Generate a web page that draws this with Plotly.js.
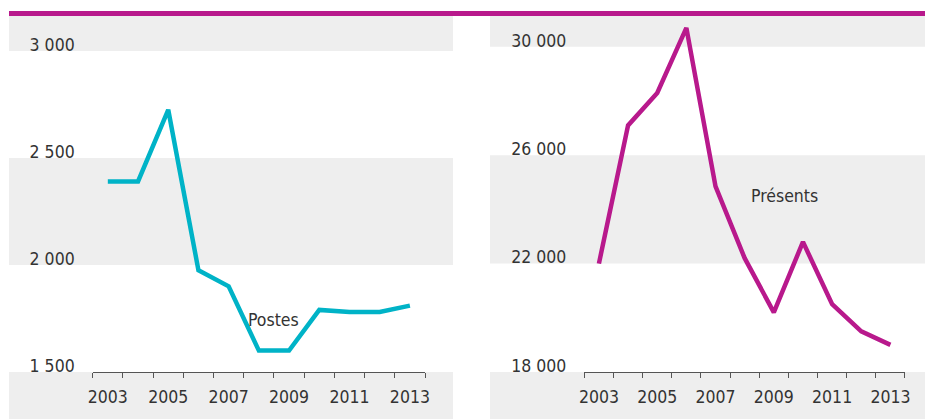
<!DOCTYPE html>
<html>
<head>
<meta charset="utf-8">
<script src="https://cdn.plot.ly/plotly-3.0.1.min.js"></script>
<style>html,body{margin:0;padding:0;background:#fff;}#chart{width:925px;height:419px;}</style>
</head>
<body>
<div id="chart"></div>
<script>
// Data
var years = [2003, 2004, 2005, 2006, 2007, 2008, 2009, 2010, 2011, 2012, 2013];
var postes = [2390, 2390, 2725, 1975, 1900, 1600, 1600, 1790, 1780, 1780, 1810];
var presents = [22000, 27100, 28300, 30700, 24850, 22200, 20200, 22800, 20500, 19500, 19000];
var xTickVals = [2003, 2005, 2007, 2009, 2011, 2013];
var leftTicks = [1500, 2000, 2500, 3000];
var rightTicks = [18000, 22000, 26000, 30000];
var labelPostes = "Postes";
var labelPresents = "Présents";

var cyan = "#00B3C7";
var magenta = "#B8198C";
var band = "#EEEEEE";
var txt = "#333333";
var FONT = "'DejaVu Sans Condensed', 'Liberation Sans Narrow', 'Roboto', sans-serif";
var FS = 17.5;

var yDom = [0.1122, 0.9618];
var xDomL = [0.1002, 0.4595];
var xDomR = [0.6317, 0.9784];

function xAxis(dom, anchor) {
  return {
    domain: dom, anchor: anchor, range: [2002.499, 2013.501],
    tickvals: xTickVals, ticks: "", showgrid: false, zeroline: false,
    showline: true, linecolor: "#555", linewidth: 1,
    tickfont: {family: FONT, size: FS, color: txt},
    ticklabelstandoff: 9,
    minor: {ticks: "outside", ticklen: 5, tickwidth: 1, tickcolor: "#555", tick0: 2002.5, dtick: 1, showgrid: false},
    fixedrange: true
  };
}
function yAxis(dom, anchor, range, vals) {
  return {
    domain: dom, anchor: anchor, range: range, tickvals: vals, tickformat: ",d",
    ticks: "", showgrid: false, zeroline: false, showline: false,
    ticklabelposition: "outside top", ticklabelstandoff: 17, ticklabelshift: 6,
    tickfont: {family: FONT, size: FS, color: txt},
    fixedrange: true
  };
}

var rangeL = [1500, 3163];
var rangeR = [18000, 31137];

var traces = [
  {x: years, y: postes, type: "scatter", mode: "lines", xaxis: "x", yaxis: "y",
   line: {color: cyan, width: 4.5}, hoverinfo: "skip"},
  {x: years, y: presents, type: "scatter", mode: "lines", xaxis: "x2", yaxis: "y2",
   line: {color: magenta, width: 4.5}, hoverinfo: "skip"}
];

var shapes = [
  // left bands
  {type: "rect", xref: "paper", yref: "y", x0: 9/925, x1: 453/925, y0: leftTicks[3], y1: rangeL[1], fillcolor: band, line: {width: 0}, layer: "below"},
  {type: "rect", xref: "paper", yref: "y", x0: 9/925, x1: 453/925, y0: leftTicks[1], y1: leftTicks[2], fillcolor: band, line: {width: 0}, layer: "below"},
  {type: "rect", xref: "paper", yref: "paper", x0: 9/925, x1: 453/925, y0: 0, y1: yDom[0], fillcolor: band, line: {width: 0}, layer: "below"},
  // right bands
  {type: "rect", xref: "paper", yref: "y2", x0: 490/925, x1: 1, y0: rightTicks[3], y1: rangeR[1], fillcolor: band, line: {width: 0}, layer: "below"},
  {type: "rect", xref: "paper", yref: "y2", x0: 490/925, x1: 1, y0: rightTicks[1], y1: rightTicks[2], fillcolor: band, line: {width: 0}, layer: "below"},
  {type: "rect", xref: "paper", yref: "paper", x0: 490/925, x1: 1, y0: 0, y1: yDom[0], fillcolor: band, line: {width: 0}, layer: "below"},
  // top magenta rule
  {type: "line", xref: "paper", yref: "paper", x0: 9/925, x1: 1, y0: 405.5/419, y1: 405.5/419, line: {color: magenta, width: 5}}
];

var annotations = [
  {xref: "x", yref: "y", x: 2008.5, y: 1743, text: labelPostes, showarrow: false,
   font: {family: FONT, size: FS, color: txt}},
  {xref: "x2", yref: "y2", x: 2009.38, y: 24510, text: labelPresents, showarrow: false,
   font: {family: FONT, size: FS, color: txt}}
];

var layout = {
  width: 925, height: 419,
  margin: {l: 0, r: 0, t: 0, b: 0},
  paper_bgcolor: "#fff", plot_bgcolor: "rgba(0,0,0,0)",
  showlegend: false,
  separators: ", ",
  xaxis: xAxis(xDomL, "y"),
  yaxis: yAxis(yDom, "x", rangeL, leftTicks),
  xaxis2: xAxis(xDomR, "y2"),
  yaxis2: yAxis(yDom, "x2", rangeR, rightTicks),
  shapes: shapes,
  annotations: annotations
};

Plotly.newPlot("chart", traces, layout, {displayModeBar: false, staticPlot: true});
</script>
</body>
</html>
